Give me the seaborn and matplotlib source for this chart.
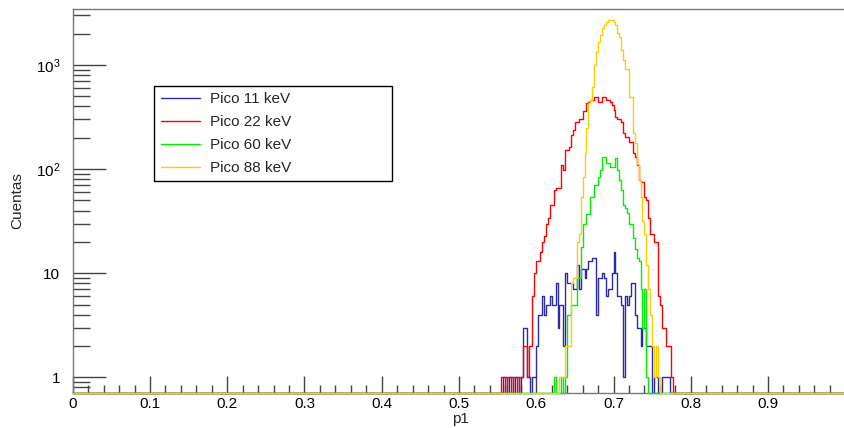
import numpy as np
import pandas as pd
import matplotlib
matplotlib.use("Agg")
import matplotlib.pyplot as plt
import matplotlib.ticker as mticker
import seaborn as sns

# ---------------- data ----------------
bin_width = 0.0025
x_min, x_max = 0.0, 1.0
window_start = 0.555          # first bin (lower edge) of the listed counts

labels = ["Pico 11 keV", "Pico 22 keV", "Pico 60 keV", "Pico 88 keV"]
colors = ["#2b2ba8", "#ff0000", "#00ee00", "#ffcc00"]

counts_11 = [0, 1, 1, 0, 1, 1, 0, 1, 1, 0, 1, 3, 3, 1, 1, 0, 1, 1, 2, 4,
             4, 6, 4, 5, 5, 6, 5, 5, 8, 3, 5, 5, 2, 10, 8, 8, 8, 7, 7, 12,
             7, 11, 11, 9, 11, 13, 13, 14, 14, 4, 9, 9, 10, 9, 6, 7, 7, 10, 16, 10,
             6, 6, 5, 1, 6, 5, 6, 8, 8, 4, 3, 3, 2, 3, 3, 2, 2, 2, 0, 1,
             1, 0, 0, 1, 1, 1, 1, 0, 0, 0]
counts_22 = [1, 1, 0, 1, 1, 0, 1, 1, 0, 1, 1, 2, 2, 1, 2, 2, 6, 10, 13, 13,
             16, 20, 23, 30, 34, 45, 45, 63, 66, 66, 66, 110, 98, 152, 152, 164, 211, 240, 285, 285,
             300, 300, 360, 360, 427, 445, 460, 460, 490, 490, 445, 445, 490, 490, 465, 465, 445, 412, 370, 318,
             306, 306, 285, 220, 204, 204, 183, 183, 142, 131, 109, 78, 75, 75, 54, 50, 34, 24, 24, 20,
             20, 6, 5, 3, 3, 2, 2, 2, 1, 0]
counts_60 = [0, 0, 0, 0, 0, 0, 0, 0, 0, 0, 0, 0, 0, 0, 0, 0, 0, 0, 0, 0,
             0, 0, 0, 0, 0, 0, 0, 1, 0, 0, 0, 1, 0, 1, 4, 4, 5, 5, 5, 9,
             9, 18, 30, 30, 37, 37, 54, 54, 70, 70, 84, 98, 131, 131, 114, 114, 105, 105, 105, 127,
             98, 78, 63, 45, 42, 38, 30, 30, 22, 17, 14, 13, 7, 3, 7, 1, 0, 0, 0, 0,
             0, 0, 0, 0, 0, 0, 0, 0, 0, 0]
counts_88 = [0, 0, 0, 0, 0, 0, 0, 0, 0, 0, 0, 0, 0, 0, 0, 0, 0, 0, 0, 0,
             0, 0, 0, 0, 0, 0, 0, 0, 0, 0, 1, 1, 1, 2, 2, 2, 8, 9, 9, 20,
             24, 54, 84, 142, 246, 427, 460, 620, 1000, 1340, 1680, 1940, 2270, 2420, 2600, 2700, 2700, 2700, 2600, 2420,
             2020, 1860, 1390, 1110, 920, 920, 495, 495, 220, 177, 113, 78, 54, 32, 24, 12, 7, 4, 2, 1,
             2, 1, 0, 0, 0, 0, 0, 0, 0, 0]
series = [counts_11, counts_22, counts_60, counts_88]

x_ticks = [0.0, 0.1, 0.2, 0.3, 0.4, 0.5, 0.6, 0.7, 0.8, 0.9]
x_tick_labels = ["0", "0.1", "0.2", "0.3", "0.4", "0.5", "0.6", "0.7", "0.8", "0.9"]
y_ticks = [1, 10, 100, 1000]
y_tick_labels = ["1", "10", r"$10^{2}$", r"$10^{3}$"]
y_lim = (0.711, 3450)

# ---------------- figure ----------------
sns.set_theme(style="white")
plt.rcParams["font.family"] = ["Liberation Sans", "DejaVu Sans"]
plt.rcParams["mathtext.default"] = "regular"

FS = 11
W, H = 845, 428
fig = plt.figure(figsize=(W / 100, H / 100), dpi=100)
fig.patch.set_facecolor("white")
ax = fig.add_axes([72.7 / W, 1 - 392.7 / H, (845.3 - 72.7) / W, (392.7 - 9) / H])
ax.set_facecolor("white")
ax.set_yscale("log")

n_bins = int(round((x_max - x_min) / bin_width))
edges = [round(x_min + k * bin_width, 6) for k in range(n_bins + 1)]
centers = np.array(edges[:-1]) + bin_width / 2
start_idx = int(round(window_start / bin_width))

frames = []
for lab, cnt in zip(labels, series):
    full = np.zeros(len(centers))
    full[start_idx:start_idx + len(cnt)] = cnt
    # ROOT draws empty bins on the lower frame of a log axis
    shown = np.maximum(full, y_lim[0])
    frames.append(pd.DataFrame({"p1": centers, "w": shown, "serie": lab}))
df = pd.concat(frames, ignore_index=True)

for lab, col in zip(labels, colors):
    sub = df[df["serie"] == lab]
    sns.histplot(data=sub, x="p1", weights="w", bins=edges, element="step",
                 fill=False, color=col, linewidth=1.0, ax=ax, label=lab,
                 zorder=3, clip_on=False)

ax.set_xlim(x_min, x_max)
ax.set_ylim(*y_lim)

frame_col = "#777777"
for s in ax.spines.values():
    s.set_color(frame_col)
    s.set_linewidth(1.0)
    s.set_zorder(2)

ax.xaxis.set_major_locator(mticker.FixedLocator(x_ticks))
ax.xaxis.set_major_formatter(mticker.FixedFormatter(x_tick_labels))
ax.xaxis.set_minor_locator(mticker.MultipleLocator(0.02))
ax.yaxis.set_major_locator(mticker.FixedLocator(y_ticks))
ax.yaxis.set_major_formatter(mticker.FixedFormatter(y_tick_labels))
ax.yaxis.set_minor_locator(mticker.LogLocator(base=10, subs=np.arange(2, 10)))
ax.yaxis.set_minor_formatter(mticker.NullFormatter())

ax.tick_params(axis="x", which="major", direction="in", length=12, width=1,
               color="#444444", labelsize=FS, pad=3, top=False, bottom=True,
               labelcolor="black")
ax.tick_params(axis="x", which="minor", direction="in", length=6, width=1,
               color="#444444", top=False, bottom=True)
ax.tick_params(axis="y", which="major", direction="in", length=24, width=1,
               color="#444444", labelsize=FS, pad=9, right=False, left=True,
               labelcolor="black")
ax.tick_params(axis="y", which="minor", direction="in", length=12, width=1,
               color="#444444", right=False, left=True)

ax.set_xlabel("")
ax.set_ylabel("")
fig.text(460 / W, 1 - 419 / H, "p1", ha="center", va="center", fontsize=FS)
fig.text(17 / W, 1 - 201 / H, "Cuentas", ha="center", va="center",
         rotation=90, fontsize=FS)

leg = ax.legend(loc="upper left",
                bbox_to_anchor=((154.3 - 72.7) / 772.5, 0.5, (391.7 - 154.3) / 772.5,
                                (392.7 - 86) / 383.7 - 0.5),
                mode="expand", borderaxespad=0, fontsize=FS, frameon=True,
                fancybox=False, framealpha=1, edgecolor="black",
                handlelength=2.6, handletextpad=0.65, labelspacing=0.58,
                borderpad=0.42)
leg.get_frame().set_linewidth(1.0)
for h in leg.get_lines():
    h.set_linewidth(1.0)

fig.savefig("out.png", dpi=100, facecolor="white")
